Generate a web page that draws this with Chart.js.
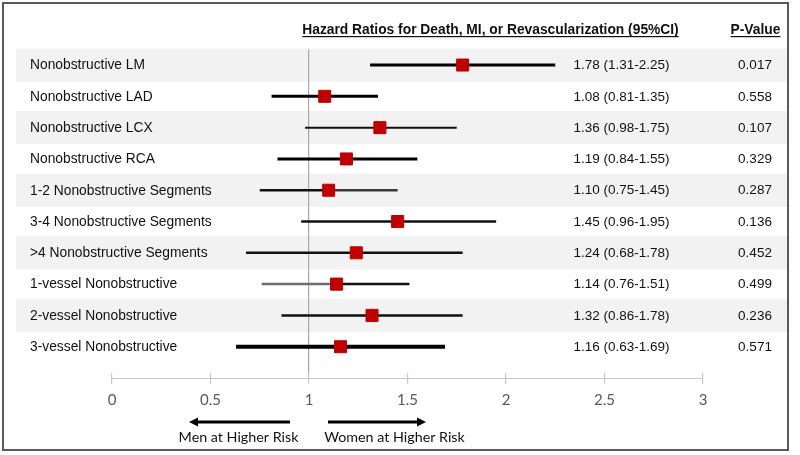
<!DOCTYPE html>
<html><head><meta charset="utf-8">
<script src="https://cdn.jsdelivr.net/npm/chart.js@4.4.1/dist/chart.umd.min.js"></script>
<style>html,body{margin:0;padding:0;background:#fff;}canvas{display:block;}</style>
</head><body>
<canvas id="c" width="800" height="455"></canvas>
<script>
// ---- data ----
const categories = [
  'Nonobstructive LM',
  'Nonobstructive LAD',
  'Nonobstructive LCX',
  'Nonobstructive RCA',
  '1-2 Nonobstructive Segments',
  '3-4 Nonobstructive Segments',
  '>4 Nonobstructive Segments',
  '1-vessel Nonobstructive',
  '2-vessel Nonobstructive',
  '3-vessel Nonobstructive'
];
const hazardRatios = [1.78, 1.08, 1.36, 1.19, 1.10, 1.45, 1.24, 1.14, 1.32, 1.16];
const ciLower      = [1.31, 0.81, 0.98, 0.84, 0.75, 0.96, 0.68, 0.76, 0.86, 0.63];
const ciUpper      = [2.25, 1.35, 1.75, 1.55, 1.45, 1.95, 1.78, 1.51, 1.78, 1.69];
const pValues      = ['0.017','0.558','0.107','0.329','0.287','0.136','0.452','0.499','0.236','0.571'];
const xTickMin = 0, xTickMax = 3, xTickStep = 0.5;
const headerCI = 'Hazard Ratios for Death, MI, or Revascularization (95%CI)';
const headerP = 'P-Value';
const leftArrowLabel = 'Men at Higher Risk';
const rightArrowLabel = 'Women at Higher Risk';

// ---- styles ----
const lineWidths  = [3, 3, 2, 3, 2.5, 2.5, 2.5, 2.5, 2.5, 4];
const leftColors  = ['#000','#000','#111','#000','#111','#111','#111','#6e6e6e','#111','#000'];
const rightColors = ['#000','#000','#111','#000','#3a3a3a','#111','#111','#111','#111','#000'];
const markerColor = '#C00000';

const ciDatasets = categories.map((c, i) => ({
  type: 'line',
  label: c,
  data: [{x: ciLower[i], y: i}, {x: hazardRatios[i], y: i}, {x: ciUpper[i], y: i}],
  borderColor: leftColors[i],
  borderWidth: lineWidths[i],
  borderCapStyle: 'butt',
  pointRadius: 0,
  showLine: true,
  order: 2,
  segment: { borderColor: ctx => ctx.p0DataIndex === 0 ? leftColors[i] : rightColors[i] }
}));

const markerDataset = {
  type: 'scatter',
  label: 'HR',
  data: hazardRatios.map((v, i) => ({x: v, y: i})),
  pointStyle: 'rect',
  pointRadius: 8.5,
  pointHoverRadius: 8.5,
  backgroundColor: markerColor,
  borderColor: markerColor,
  borderWidth: 1,
  order: 1
};

const decor = {
  id: 'decor',
  beforeDraw(chart) {
    const {ctx} = chart; const y = chart.scales.y;
    ctx.save();
    ctx.fillStyle = '#fff'; ctx.fillRect(0, 0, chart.width, chart.height);
    const step = Math.abs(y.getPixelForValue(1) - y.getPixelForValue(0));
    ctx.fillStyle = '#f2f2f2';
    categories.forEach((c, i) => {
      if (i % 2 === 0) {
        const py = y.getPixelForValue(i);
        ctx.fillRect(16, py - step / 2 - 1, 771, step + 2);
      }
    });
    ctx.restore();
  },
  afterDraw(chart) {
    const {ctx, chartArea} = chart; const x = chart.scales.x; const y = chart.scales.y;
    ctx.save();
    // axis line
    ctx.strokeStyle = '#c8c8c8'; ctx.lineWidth = 1.2;
    const ay = chartArea.bottom + 5.5;
    ctx.beginPath(); ctx.moveTo(x.getPixelForValue(xTickMin), ay); ctx.lineTo(x.getPixelForValue(xTickMax), ay); ctx.stroke();
    // row labels, CI text, p values
    ctx.fillStyle = '#111';
    ctx.textBaseline = 'middle';
    categories.forEach((c, i) => {
      const py = y.getPixelForValue(i) + 0.5;
      ctx.font = '13.8px "Liberation Sans", Arial, sans-serif';
      ctx.textAlign = 'left';
      ctx.fillText(c, 30, py);
      ctx.font = '13.5px "Liberation Sans", Arial, sans-serif';
      ctx.textAlign = 'center';
      const ci = hazardRatios[i].toFixed(2) + ' (' + ciLower[i].toFixed(2) + '-' + ciUpper[i].toFixed(2) + ')';
      ctx.fillText(ci, 621.5, py);
      ctx.fillText(pValues[i], 755, py);
    });
    // headers
    ctx.font = 'bold 13.8px "Liberation Sans", Arial, sans-serif';
    ctx.textAlign = 'center'; ctx.textBaseline = 'alphabetic';
    const hy = 34;
    [[headerCI, 490.5], [headerP, 755.5]].forEach(([t, cx]) => {
      ctx.fillText(t, cx, hy);
      const w = ctx.measureText(t).width;
      ctx.fillRect(cx - w / 2, hy + 2, w, 1.2);
    });
    // arrows
    ctx.fillStyle = '#000'; ctx.strokeStyle = '#000'; ctx.lineWidth = 3.2;
    const ry = 422;
    ctx.beginPath(); ctx.moveTo(290, ry); ctx.lineTo(197, ry); ctx.stroke();
    ctx.beginPath(); ctx.moveTo(189, ry); ctx.lineTo(198, ry - 4.5); ctx.lineTo(198, ry + 4.5); ctx.closePath(); ctx.fill();
    ctx.beginPath(); ctx.moveTo(328, ry); ctx.lineTo(418, ry); ctx.stroke();
    ctx.beginPath(); ctx.moveTo(426, ry); ctx.lineTo(417, ry - 4.5); ctx.lineTo(417, ry + 4.5); ctx.closePath(); ctx.fill();
    ctx.font = '14.3px Lato, "Open Sans", sans-serif';
    ctx.textBaseline = 'middle'; ctx.fillStyle = '#111';
    ctx.fillText(leftArrowLabel, 238.5, 437);
    ctx.fillText(rightArrowLabel, 394.5, 437);
    // border
    ctx.strokeStyle = '#5a5a5a'; ctx.lineWidth = 2;
    ctx.strokeRect(3, 3, 785, 447);
    ctx.restore();
  }
};

new Chart(document.getElementById('c'), {
  type: 'scatter',
  data: { datasets: [markerDataset, ...ciDatasets] },
  options: {
    responsive: false,
    animation: false,
    events: [],
    layout: { padding: { left: 112, right: 97, top: 49.4, bottom: 39 } },
    plugins: { legend: { display: false }, tooltip: { enabled: false } },
    scales: {
      x: {
        type: 'linear', min: xTickMin, max: xTickMax,
        ticks: { stepSize: xTickStep, color: '#595959', padding: 7,
          font: { family: 'Lato, "Open Sans", sans-serif', size: 15 },
          callback: v => String(Number(v.toFixed(2))) },
        grid: {
          drawOnChartArea: true, drawTicks: true, tickLength: 11,
          color: ctx => (ctx.tick && ctx.tick.value === 1) ? '#a8a8a8' : 'rgba(0,0,0,0)',
          tickColor: '#c8c8c8', lineWidth: 1.2, tickWidth: 1.2
        },
        border: { display: false }
      },
      y: {
        type: 'linear', reverse: true, min: -0.5, max: 9.84, display: false
      }
    }
  },
  plugins: [decor]
});
</script>
</body></html>
